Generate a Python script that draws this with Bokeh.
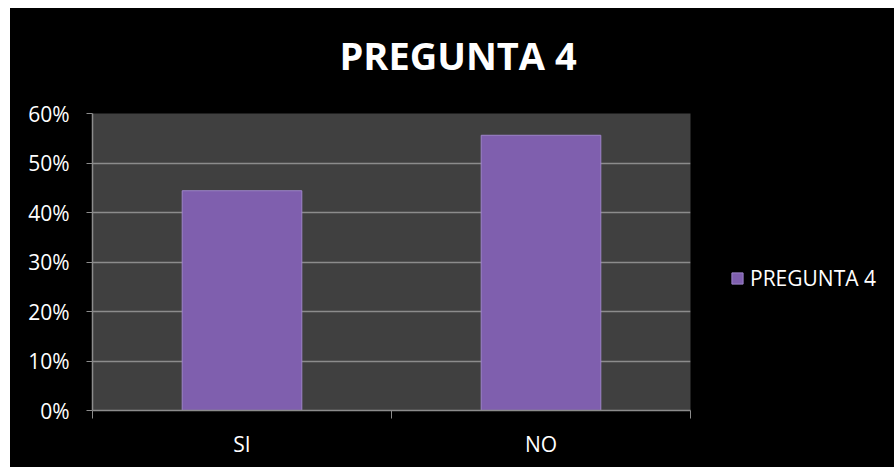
from bokeh.plotting import figure
from bokeh.models import (Range1d, FixedTicker, NumeralTickFormatter, Legend, LegendItem,
                          ColumnDataSource, Title, Spacer, Grid)
from bokeh.layouts import column, row
from bokeh.embed import file_html
from bokeh.resources import INLINE

categories = ["SI", "NO"]
values = [0.444, 0.556]
series_name = "PREGUNTA 4"
y_ticks = [0.0, 0.1, 0.2, 0.3, 0.4, 0.5, 0.6]

FONT = "Open Sans"
BAR_FILL = "#7f5fae"
BAR_LINE = "#9d84c9"

xs = [i + 0.5 for i in range(len(categories))]
src = ColumnDataSource(dict(x=xs, top=values, cat=categories))

p = figure(width=682, height=459, output_backend="svg", toolbar_location=None,
           x_range=Range1d(0, len(categories)), y_range=Range1d(0, 0.6),
           min_border_left=82, min_border_right=2, min_border_top=105, min_border_bottom=57)

p.background_fill_color = "#404040"
p.border_fill_color = "#000000"
p.outline_line_color = None

# spacing element between frame and title (keeps the title high above the plot)
gap = Title(text=" ", text_font_size="1px", text_color="#000000", standoff=29)
p.add_layout(gap, "above")
t = Title(text=series_name, align="left", offset=247, text_font=FONT, text_font_size="38px",
          text_font_style="bold", text_color="#ffffff", standoff=2)
p.add_layout(t, "above")

r = p.vbar(x="x", top="top", width=0.4, bottom=0, source=src,
           fill_color=BAR_FILL, line_color=BAR_LINE, line_width=1)

# x axis
p.xaxis.ticker = FixedTicker(ticks=xs, minor_ticks=list(range(len(categories) + 1)))
p.xaxis.major_label_overrides = {x: c for x, c in zip(xs, categories)}
p.xaxis.major_tick_line_color = None
p.xaxis.minor_tick_line_color = "#8c8c8c"
p.xaxis.minor_tick_in = 0
p.xaxis.minor_tick_out = 8
p.xaxis.axis_line_color = "#8c8c8c"
p.xaxis.axis_line_width = 1.5
p.xaxis.major_label_text_font = FONT
p.xaxis.major_label_text_font_size = "21px"
p.xaxis.major_label_text_color = "#ffffff"
p.xaxis.major_label_standoff = 11

# y axis
p.yaxis.ticker = FixedTicker(ticks=y_ticks)
p.yaxis.formatter = NumeralTickFormatter(format="0%")
p.yaxis.major_tick_line_color = "#8c8c8c"
p.yaxis.major_tick_in = 0
p.yaxis.major_tick_out = 6
p.yaxis.minor_tick_line_color = None
p.yaxis.axis_line_color = "#8c8c8c"
p.yaxis.axis_line_width = 1.5
p.yaxis.major_label_text_font = FONT
p.yaxis.major_label_text_font_size = "21px"
p.yaxis.major_label_text_color = "#ffffff"
p.yaxis.major_label_standoff = 17

p.xgrid.grid_line_color = None
p.ygrid.grid_line_color = "#8c8c8c"
p.ygrid.grid_line_width = 1.5
p.ygrid.ticker = FixedTicker(ticks=y_ticks)

# legend panel (separate canvas to the right of the chart)
p2 = figure(width=202, height=459, output_backend="svg", toolbar_location=None,
            x_range=Range1d(-3, -2), y_range=Range1d(-3, -2),
            x_axis_location=None, y_axis_location=None,
            min_border_left=0, min_border_right=0, min_border_top=0, min_border_bottom=0,
            styles={"background-color": "#000000"})
p2.background_fill_color = "#000000"
p2.border_fill_color = "#000000"
p2.outline_line_color = None
for g in list(p2.center):
    if isinstance(g, Grid):
        g.visible = False
        g.grid_line_color = None
# same series drawn outside p2's visible range, only used for the legend swatch
r2 = p2.vbar(x="x", top="top", width=0.4, bottom=0, source=src,
             fill_color=BAR_FILL, line_color=BAR_LINE, line_width=1)

legend = Legend(items=[LegendItem(label=series_name, renderers=[r2])], location=(38, 118),
                padding=0, margin=0, border_line_color=None, background_fill_alpha=0,
                glyph_width=14, glyph_height=14, label_standoff=6,
                label_text_font=FONT, label_text_font_size="21px", label_text_color="#ffffff")
p2.add_layout(legend, "center")

chart = row(p, p2, styles={"background-color": "#000000"})
layout = column(Spacer(height=8, width=894), row(Spacer(width=10, height=459), chart))

open("out.html", "w").write(file_html(layout, INLINE))
